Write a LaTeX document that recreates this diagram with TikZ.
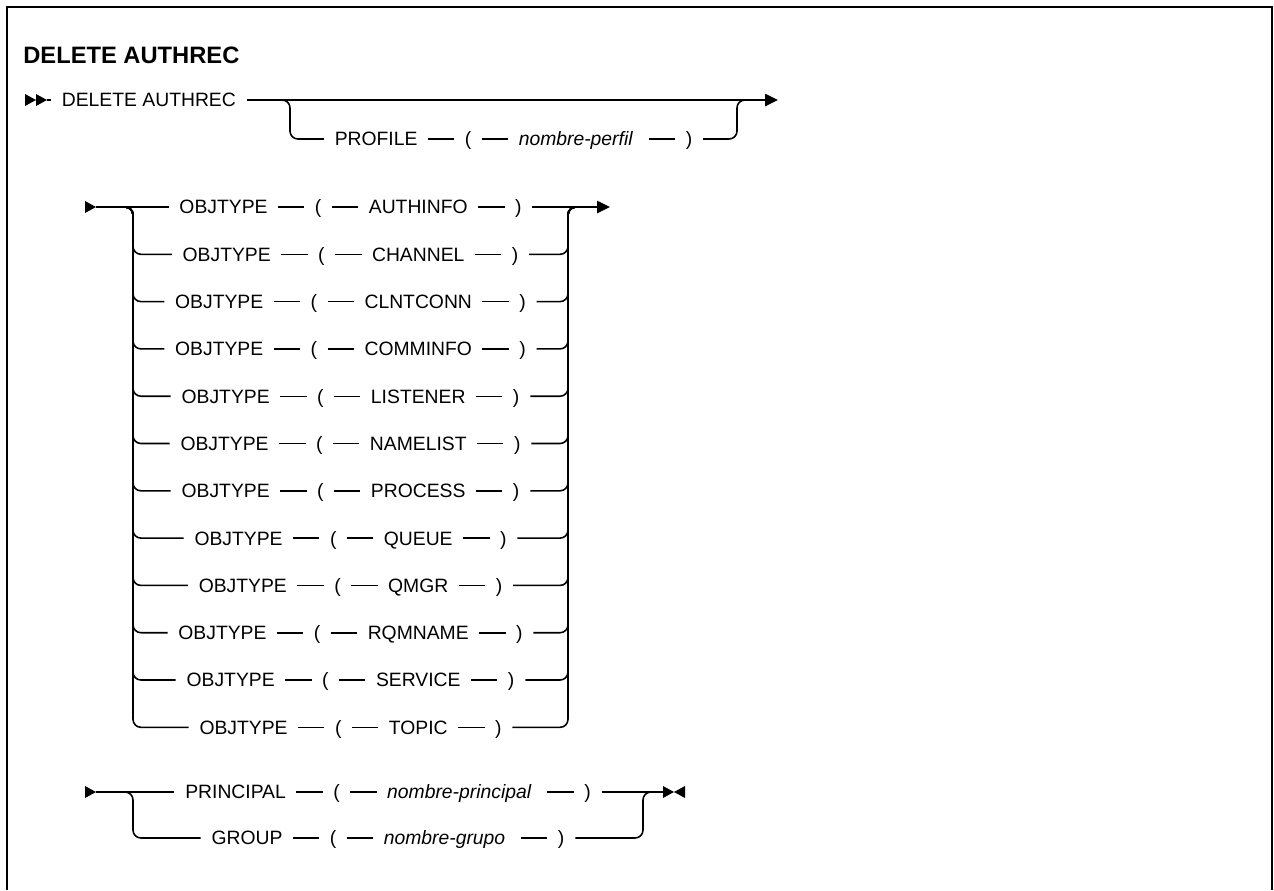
\documentclass[tikz,border=0pt]{standalone}
\usepackage{fontspec}
\setmainfont{Liberation Sans}
\usepackage{tikz}
\usetikzlibrary{arrows.meta,positioning}
\newcommand{\synsep}{\hspace{6pt}\rule[3.45pt]{15pt}{0.9pt}\hspace{6pt}}

\begin{document}
\begin{tikzpicture}[x=0.02cm,y=-0.02cm,
  rail/.style={line width=0.9pt,rounded corners=4.5pt},
  kw/.style={inner xsep=6pt,inner ysep=0pt,text height=7.9pt,text depth=0pt,
             font=\fontsize{11}{13}\selectfont},
  heading/.style={inner sep=0pt,font=\bfseries\fontsize{13.5}{16}\selectfont},
  endtip/.style={-{Triangle[length=7.4pt,width=7pt]}}]
  \useasboundingbox (0,0) rectangle (1274,890);
  \draw[line width=1.1pt] (7,890) -- (7,7) -- (1272,7) -- (1272,890);
  \node[heading,anchor=base west] (title) at (23,63) {DELETE AUTHREC};

  % first line
  \coordinate (s1) at (47,100);
  \coordinate (p1) at (280,100);
  \coordinate (p1v) at (290,100);
  \coordinate (q1v) at (737,100);
  \coordinate (q1) at (747,100);
  \coordinate (e1) at (778,100);
  \fill (s1) -- ++(-11,-6) -- ++(0,12) -- cycle;
  \fill (s1) ++(-11,0) -- ++(-11,-6) -- ++(0,12) -- cycle;
  \node[kw,anchor=west] (cmd) at (51,100) {DELETE AUTHREC};
  \node[kw] (prof) at (513.5,139)
    {PROFILE\synsep(\synsep\textit{nombre-perfil}\hspace{3pt}\synsep)};
  \draw[rail] (s1) -- (cmd.west);
  \draw[rail,endtip] (cmd.east) -- (e1);
  \draw[rail] (p1) -- (p1v) |- (prof.west);
  \draw[rail] (prof.east) -| (q1v) -- (q1);

  % object types
  \coordinate (s2) at (96,207);
  \coordinate (l2) at (124,207);
  \coordinate (l2v) at (133,207);
  \coordinate (r2v) at (568,207);
  \coordinate (r2) at (577,207);
  \coordinate (e2) at (610,207);
  \fill (s2) -- ++(-11,-6) -- ++(0,12) -- cycle;
  \foreach \t [count=\i] in {AUTHINFO,CHANNEL,CLNTCONN,COMMINFO,LISTENER,NAMELIST,
                             PROCESS,QUEUE,QMGR,RQMNAME,SERVICE,TOPIC}
    \node[kw] (o\i) at (350.5,{207+47.3*(\i-1)}) {OBJTYPE\synsep(\synsep\t\synsep)};
  \draw[rail] (s2) -- (o1.west);
  \draw[rail,endtip] (o1.east) -- (e2);
  \foreach \i in {2,...,12}{
    \draw[rail] (l2) -- (l2v) |- (o\i.west);
    \draw[rail] (o\i.east) -| (r2v) -- (r2);
  }

  % principal or group
  \coordinate (s3) at (96,792);
  \coordinate (l3) at (124,792);
  \coordinate (l3v) at (133,792);
  \coordinate (r3v) at (643,792);
  \coordinate (r3) at (652,792);
  \coordinate (e3) at (663,792);
  \fill (s3) -- ++(-11,-6) -- ++(0,12) -- cycle;
  \node[kw] (prin) at (388,792)
    {PRINCIPAL\synsep(\synsep\textit{nombre-principal}\hspace{3pt}\synsep)};
  \node[kw] (grp) at (388,838)
    {GROUP\synsep(\synsep\textit{nombre-grupo}\hspace{3pt}\synsep)};
  \draw[rail] (s3) -- (prin.west);
  \draw[rail] (prin.east) -- (e3);
  \draw[rail] (l3) -- (l3v) |- (grp.west);
  \draw[rail] (grp.east) -| (r3v) -- (r3);
  \fill (e3) ++(0,-6) -- ++(0,12) -- ++(11,-6) -- cycle;
  \fill (e3) ++(22,-6) -- ++(0,12) -- ++(-11,-6) -- cycle;
\end{tikzpicture}
\end{document}
